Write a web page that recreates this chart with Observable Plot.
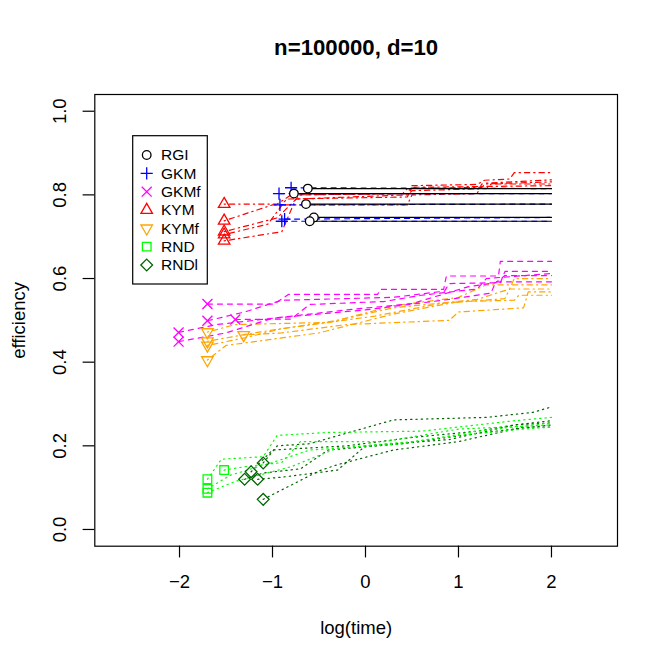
<!DOCTYPE html>
<html><head><meta charset="utf-8">
<script src="https://cdn.jsdelivr.net/npm/d3@7"></script>
<script src="https://cdn.jsdelivr.net/npm/@observablehq/plot@0.6"></script>
<style>body{margin:0;background:#fff} svg{display:block}</style>
</head><body><div id="chart"></div>
<script>
const methods = ["RGI","GKM","GKMf","KYM","KYMf","RND","RNDl"];
const colors = ["#000000","#0000FF","#FF00FF","#FF0000","#FFA500","#00FF00","#006400"];
const dashes = ["none","5,5","5,5","1.3,4,5.3,4","1.3,4,5.3,4","1.3,4","1.3,4"];
const symbols = ["circle","plus","times","triangle2","triangle2","square2","diamond2"];
const d3symbols = [d3.symbolCircle,d3.symbolPlus,d3.symbolTimes,d3.symbolTriangle2,d3.symbolTriangle2,d3.symbolSquare2,d3.symbolDiamond2];
const rotations = [0,0,0,0,180,0,0];
const radii = [4.3,4.0,4.6,5.5,5.5,5.5,5.3];
const xTicks = [-2,-1,0,1,2];
const yTicks = [0,0.2,0.4,0.6,0.8,1.0];
const titleText = "n=100000, d=10";
const xLabel = "log(time)";
const yLabel = "efficiency";

// each run: list of [log(time), efficiency]
const runsRGI = [
  [[-0.62,0.815],[2,0.815]],
  [[-0.77,0.803],[2,0.803]],
  [[-0.64,0.778],[2,0.778]],
  [[-0.555,0.746],[2,0.746]],
  [[-0.60,0.737],[2,0.737]]
];
const runsGKM = [
  [[-0.80,0.817],[2,0.815]],
  [[-0.93,0.803],[2,0.803]],
  [[-0.92,0.776],[2,0.778]],
  [[-0.87,0.742],[2,0.746]],
  [[-0.90,0.737],[2,0.737]]
];
const runsGKMf = [
  [[-1.70,0.539],[-0.98,0.539],[-0.83,0.562],[0.13,0.562],[0.16,0.574],[0.84,0.574],[0.87,0.606],[1.43,0.606],[1.45,0.641],[2,0.641]],
  [[-1.70,0.499],[-1.3,0.520],[-0.9,0.548],[0.3,0.555],[0.85,0.570],[0.9,0.588],[1.45,0.590],[1.5,0.617],[2,0.617]],
  [[-1.40,0.502],[-0.8,0.503],[-0.6,0.538],[0.2,0.545],[0.6,0.560],[1.2,0.575],[1.3,0.600],[2,0.612]],
  [[-2.01,0.471],[-1.6,0.490],[-1.2,0.500],[-0.2,0.525],[0.5,0.540],[1.1,0.580],[1.4,0.590],[1.5,0.607],[2,0.607]],
  [[-2.01,0.449],[-1.5,0.470],[-1.0,0.505],[0.0,0.525],[0.9,0.550],[1.35,0.565],[1.4,0.592],[2,0.592]]
];
const runsKYM = [
  [[-1.52,0.778],[-0.95,0.778],[-0.8,0.800],[0.45,0.803],[0.5,0.822],[1.2,0.825],[1.28,0.835],[1.55,0.838],[1.6,0.853],[2,0.853]],
  [[-1.52,0.738],[-1.0,0.776],[0.45,0.776],[0.5,0.800],[1.2,0.803],[1.25,0.826],[2,0.831]],
  [[-1.52,0.712],[-0.95,0.745],[-0.7,0.800],[0.4,0.803],[0.45,0.815],[1.25,0.818],[1.3,0.828],[2,0.836]],
  [[-1.52,0.705],[-1.05,0.730],[-0.85,0.790],[0.45,0.795],[0.5,0.818],[2,0.822]],
  [[-1.52,0.690],[-0.9,0.712],[-0.75,0.790],[0.45,0.800],[0.5,0.810],[1.3,0.815],[1.35,0.826],[2,0.826]]
];
const runsKYMf = [
  [[-1.70,0.472],[-1.4,0.490],[-0.4,0.495],[0.3,0.530],[1.2,0.550],[1.55,0.575],[1.6,0.600],[2,0.600]],
  [[-1.70,0.450],[-1.2,0.470],[-0.3,0.500],[0.3,0.535],[1.0,0.555],[1.3,0.585],[2,0.585]],
  [[-1.70,0.440],[-1.3,0.458],[-0.9,0.480],[0.1,0.510],[0.8,0.540],[1.5,0.552],[1.55,0.575],[2,0.575]],
  [[-1.70,0.405],[-1.5,0.440],[-0.5,0.470],[0.3,0.515],[1.0,0.545],[1.6,0.548],[1.65,0.560],[2,0.560]],
  [[-1.31,0.465],[-0.9,0.470],[-0.2,0.490],[0.9,0.500],[1.0,0.520],[1.7,0.530],[1.75,0.568],[2,0.568]]
];
const runsRND = [
  [[-1.70,0.120],[-1.55,0.168],[-1.1,0.174],[-0.95,0.225],[-0.4,0.232],[0.6,0.235],[1.6,0.260],[2,0.268]],
  [[-1.70,0.097],[-1.45,0.130],[-1.0,0.160],[-0.6,0.190],[0.4,0.205],[1.2,0.235],[2,0.255]],
  [[-1.70,0.088],[-1.4,0.115],[-0.8,0.150],[-0.3,0.195],[0.5,0.210],[1.0,0.225],[1.7,0.240],[2,0.245]],
  [[-1.52,0.142],[-1.3,0.150],[-0.9,0.160],[-0.7,0.210],[0.2,0.210],[1.0,0.240],[2,0.250]]
];
const runsRNDl = [
  [[-1.10,0.159],[-0.95,0.200],[-0.6,0.205],[0.3,0.262],[1.3,0.268],[1.8,0.280],[2,0.293]],
  [[-1.23,0.138],[-1.0,0.190],[-0.2,0.200],[0.5,0.220],[1.2,0.235],[1.6,0.250],[2,0.255]],
  [[-1.30,0.120],[-1.1,0.135],[-0.7,0.145],[-0.4,0.190],[0.4,0.205],[1.2,0.230],[2,0.250]],
  [[-1.16,0.120],[-0.9,0.125],[-0.3,0.142],[0.0,0.200],[0.9,0.215],[1.6,0.250],[2,0.260]],
  [[-1.10,0.072],[-0.5,0.140],[-0.3,0.155],[0.3,0.190],[1.0,0.210],[1.7,0.245],[2,0.245]]
];
const allRuns = [runsRGI,runsGKM,runsGKMf,runsKYM,runsKYMf,runsRND,runsRNDl];

const lineRows = [], startRows = [];
allRuns.forEach((runs, m) => runs.forEach((run, i) => {
  run.forEach(([x, y]) => lineRows.push({m, run: methods[m] + i, x, y}));
  startRows.push({m, x: run[0][0], y: run[0][1]});
}));

const drawOrder = [6,5,4,3,2,1,0];
const marks = [];
for (const m of drawOrder) {
  marks.push(Plot.line(lineRows.filter(d => d.m === m), {
    x: "x", y: "y", z: "run", stroke: colors[m], strokeWidth: 1.2,
    strokeDasharray: dashes[m] === "none" ? null : dashes[m]
  }));
}
for (const m of drawOrder) {
  marks.push(Plot.dot(startRows.filter(d => d.m === m), {
    x: "x", y: "y", symbol: () => symbols[m], r: radii[m], rotate: rotations[m],
    stroke: colors[m], fill: m === 0 ? "white" : "none", strokeWidth: 1.3
  }));
}
const fmtX = d => d < 0 ? "\u2212" + Math.abs(d) : String(d);
const baseFont = 18.5;
marks.push(
  Plot.frame({stroke: "black", strokeWidth: 1.2}),
  Plot.axisX({ticks: xTicks, tickSize: 11.7, tickFormat: () => "", label: null, strokeWidth: 1.2}),
  Plot.axisY({ticks: yTicks, tickSize: 11.7, tickFormat: () => "", label: null, strokeWidth: 1.2}),
  Plot.text(xTicks, {x: d => d, text: fmtX, frameAnchor: "bottom", dy: 36, textAnchor: "middle", lineAnchor: "middle", fontSize: baseFont, fill: "black"}),
  Plot.text(yTicks, {y: d => d, text: d => d.toFixed(1), frameAnchor: "left", dx: -34.3, rotate: -90, textAnchor: "middle", lineAnchor: "middle", fontSize: baseFont, fill: "black"}),
  Plot.text([titleText], {text: d => d, frameAnchor: "top", dy: -47, textAnchor: "middle", lineAnchor: "middle", fontSize: 22.2, fontWeight: "bold", fill: "black"}),
  Plot.text([xLabel], {text: d => d, frameAnchor: "bottom", dy: 82, textAnchor: "middle", lineAnchor: "middle", fontSize: baseFont, fill: "black"}),
  Plot.text([yLabel], {text: d => d, frameAnchor: "left", dx: -76, rotate: -90, textAnchor: "middle", lineAnchor: "middle", fontSize: baseFont, fill: "black"})
);

const chart = Plot.plot({
  width: 664, height: 664,
  marginLeft: 94.3, marginRight: 47, marginTop: 94, marginBottom: 118.3,
  style: {fontFamily: "'Liberation Sans', Arial, Helvetica, sans-serif", background: "white", overflow: "visible"},
  x: {domain: [-2.911, 2.71], axis: null},
  y: {domain: [-0.04, 1.04], axis: null},
  marks
});
document.getElementById("chart").appendChild(chart);

// legend (inside plot, top-left)
const svg = d3.select(chart);
const lg = svg.append("g").attr("font-family", "'Liberation Sans', Arial, Helvetica, sans-serif")
  .attr("font-size", 15.5).attr("text-anchor", "start");
lg.append("rect").attr("x", 132.7).attr("y", 135.7).attr("width", 74.6).attr("height", 148.3)
  .attr("fill", "white").attr("stroke", "black").attr("stroke-width", 1.2);
methods.forEach((name, m) => {
  const y = 155 + m * 18.33;
  lg.append("path").attr("d", d3.symbol(d3symbols[m], Math.PI * radii[m] * radii[m])())
    .attr("transform", `translate(146.7,${y}) rotate(${rotations[m]})`)
    .attr("fill", "none").attr("stroke", colors[m]).attr("stroke-width", 1.3);
  lg.append("text").attr("x", 161).attr("y", y).attr("dy", "0.35em").attr("fill", "black").text(name);
});
</script></body></html>
